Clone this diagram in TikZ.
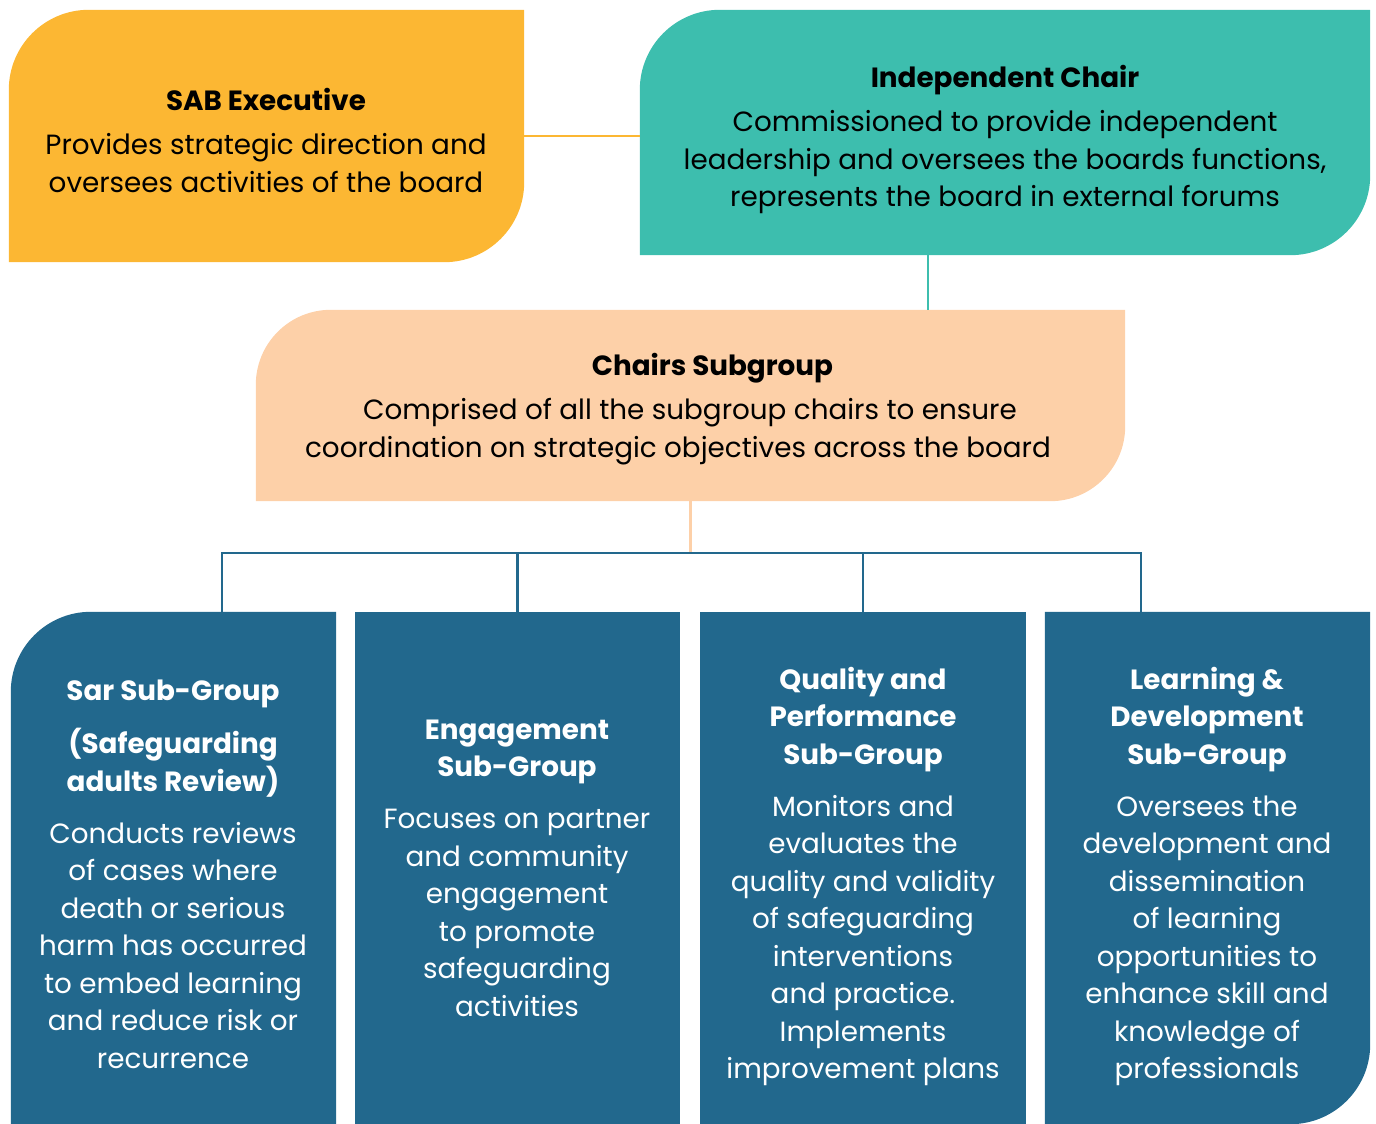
\documentclass[tikz,border=0pt]{standalone}
\usepackage{fontspec}
\setmainfont{Poppins}
\usetikzlibrary{backgrounds}
\definecolor{cyellow}{HTML}{FCB733}
\definecolor{cteal}{HTML}{3DBEAE}
\definecolor{cpeach}{HTML}{FDD0A8}
\definecolor{cblue}{HTML}{22688D}
\begin{document}
\begin{tikzpicture}[x=1pt,y=1pt,
  boxnode/.style 2 args={rectangle, inner sep=0pt, minimum width=#1, minimum height=#2},
  txt/.style={align=center, inner sep=0pt, font=\fontsize{27.8}{37.5}\selectfont},
  wtxt/.style={txt, text=white},
  conn/.style={line width=2.5pt},
]
\useasboundingbox (0,0) rectangle (1376,-1124);
% box nodes
\node[boxnode={515pt}{252pt}] (sab) at (266.5,-136) {};
\node[boxnode={730pt}{245pt}] (chair) at (1005,-132.5) {};
\node[boxnode={869pt}{191pt}] (chairs) at (690.5,-405.5) {};
\node[boxnode={325pt}{512pt}] (s1) at (173.5,-868) {};
\node[boxnode={325pt}{512pt}] (s2) at (517.5,-868) {};
\node[boxnode={326pt}{512pt}] (s3) at (863,-868) {};
\node[boxnode={325pt}{512pt}] (s4) at (1207.5,-868) {};
\coordinate (bus) at (690.5,-553);

\begin{scope}[on background layer]
% shapes: rounded top-left and bottom-right
\fill[cyellow] (sab.south west) -- ([yshift=-80pt]sab.north west) arc[start angle=180,end angle=90,radius=80pt]
  -- (sab.north east) -- ([yshift=80pt]sab.south east) arc[start angle=0,end angle=-90,radius=80pt] -- cycle;
\fill[cteal] (chair.south west) -- ([yshift=-80pt]chair.north west) arc[start angle=180,end angle=90,radius=80pt]
  -- (chair.north east) -- ([yshift=80pt]chair.south east) arc[start angle=0,end angle=-90,radius=80pt] -- cycle;
\fill[cpeach] (chairs.south west) -- ([yshift=-75pt]chairs.north west) arc[start angle=180,end angle=90,radius=75pt]
  -- (chairs.north east) -- ([yshift=75pt]chairs.south east) arc[start angle=0,end angle=-90,radius=75pt] -- cycle;
\fill[cblue] (s1.south west) -- ([yshift=-80pt]s1.north west) arc[start angle=180,end angle=90,radius=80pt]
  -- (s1.north east) -- (s1.south east) -- cycle;
\fill[cblue] (s2.south west) rectangle (s2.north east);
\fill[cblue] (s3.south west) rectangle (s3.north east);
\fill[cblue] (s4.south west) -- (s4.north west) -- (s4.north east)
  -- ([yshift=80pt]s4.south east) arc[start angle=0,end angle=-90,radius=80pt] -- cycle;
% connectors
\draw[conn, cyellow] (sab.east) -- (sab.east -| chair.west);
\draw[conn, cteal] ([xshift=-77pt]chair.south) -- ([xshift=-77pt]chair.south |- chairs.north);
\draw[conn, cpeach] (chairs.south) -- (bus);
\draw[conn, cblue] ([xshift=48.5pt]s1.north) |- ([xshift=-66.5pt]s4.north |- bus) -- ([xshift=-66.5pt]s4.north);
\draw[conn, cblue] (s2.north) -- (s2.north |- bus);
\draw[conn, cblue] (s3.north) -- (s3.north |- bus);
\end{scope}

% texts
\node[txt] (sabt) at (266,-140) {\textbf{SAB Executive}\\[7pt]Provides strategic direction and\\oversees activities of the board};
\node[txt] (chairt) at (1005,-139.5) {\textbf{Independent Chair}\\[7pt]Commissioned to provide independent\\leadership and oversees the boards functions,\\represents the board in external forums};
\node[txt] (chairst) at (690,-409) {\hspace*{45pt}\textbf{Chairs Subgroup}\\[7pt]Comprised of all the subgroup chairs to ensure\\coordination on strategic objectives across the board\hspace*{24pt}};
\node[wtxt] (s1t) at (173,-874.5) {\textbf{Sar Sub-Group}\\[15.5pt]\textbf{(Safeguarding}\\\textbf{adults Review)}\\[14.5pt]Conducts reviews\\of cases where\\death or serious\\harm has occurred\\to embed learning\\and reduce risk or\\recurrence};
\node[wtxt] (s2t) at (517,-868) {\textbf{Engagement}\\\textbf{Sub-Group}\\[14.5pt]Focuses on partner\\and community\\engagement\\to promote\\safeguarding\\activities};
\node[wtxt] (s3t) at (863,-876.5) {\textbf{Quality and}\\\textbf{Performance}\\\textbf{Sub-Group}\\[14.5pt]Monitors and\\evaluates the\\quality and validity\\of safeguarding\\interventions\\and practice.\\Implements\\improvement plans};
\node[wtxt] (s4t) at (1207,-876.5) {\textbf{Learning \&}\\\textbf{Development}\\\textbf{Sub-Group}\\[14.5pt]Oversees the\\development and\\dissemination\\of learning\\opportunities to\\enhance skill and\\knowledge of\\professionals};
\end{tikzpicture}
\end{document}
